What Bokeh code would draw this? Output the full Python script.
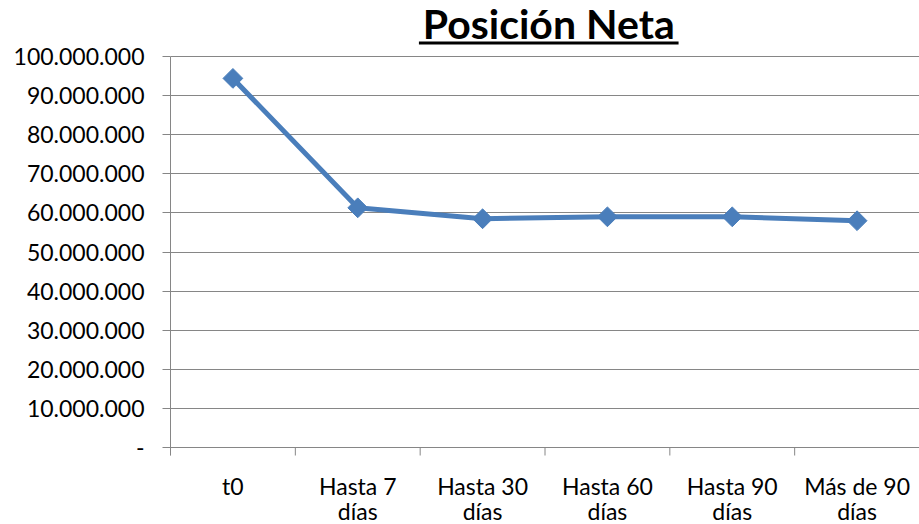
import math
from bokeh.plotting import figure
from bokeh.models import FactorRange, Range1d, LinearAxis, FixedTicker, Grid
from bokeh.core.properties import value
from bokeh.embed import file_html
from bokeh.resources import INLINE

# ---- data ----
categories = ["t0", "Hasta 7 días", "Hasta 30 días", "Hasta 60 días", "Hasta 90 días", "Más de 90 días"]
category_line1 = ["t0", "Hasta 7", "Hasta 30", "Hasta 60", "Hasta 90", "Más de 90"]
category_line2 = ["", "días", "días", "días", "días", "días"]
posicion_neta = [94_400_000, 61_300_000, 58_500_000, 59_000_000, 59_000_000, 58_000_000]
y_ticks = [0, 10_000_000, 20_000_000, 30_000_000, 40_000_000, 50_000_000,
           60_000_000, 70_000_000, 80_000_000, 90_000_000, 100_000_000]
y_tick_labels = ["-", "10.000.000", "20.000.000", "30.000.000", "40.000.000", "50.000.000",
                 "60.000.000", "70.000.000", "80.000.000", "90.000.000", "100.000.000"]
title_text = "Posición Neta"

FONT = "Lato"
GRAY = "#868686"
BLUE = "#4A7EBB"
Y_MAX = y_ticks[-1]
PX = Y_MAX / 391.0          # data units per pixel of the value area
N = len(categories)

p = figure(width=919, height=524,
           x_range=FactorRange(*categories),
           y_range=Range1d(-77 * PX, Y_MAX + 56 * PX),
           output_backend="svg", toolbar_location=None,
           x_axis_location=None, y_axis_location=None,
           min_border_left=170, min_border_right=0, min_border_top=0, min_border_bottom=0)
p.outline_line_color = None
p.background_fill_color = "white"
p.border_fill_color = "white"
p.center = [r for r in p.center if not isinstance(r, Grid)]

# horizontal gridlines
p.add_layout(Grid(dimension=1, ticker=FixedTicker(ticks=y_ticks),
                  grid_line_color=GRAY, grid_line_width=1))

# y axis
yaxis = LinearAxis(ticker=FixedTicker(ticks=y_ticks), bounds=(-8 * PX, Y_MAX),
                   major_label_overrides={t: l for t, l in zip(y_ticks, y_tick_labels)},
                   axis_line_color=GRAY, major_tick_line_color=GRAY,
                   major_tick_out=8, major_tick_in=0, minor_tick_line_color=None,
                   major_label_standoff=18,
                   major_label_text_font=FONT, major_label_text_font_size="23px",
                   major_label_text_color="black")
p.add_layout(yaxis, "left")

# category boundary tick marks
bounds = list(range(N + 1))
p.segment(x0=bounds, y0=[0] * (N + 1), x1=bounds, y1=[-8 * PX] * (N + 1),
          line_color=GRAY, line_width=1)

# category labels (two lines)
p.text(x=categories, y=[-38 * PX] * N, text=category_line1,
       text_font=value(FONT), text_font_size="23px", text_color="black",
       text_align="center", text_baseline="alphabetic")
p.text(x=categories, y=[-63 * PX] * N, text=category_line2,
       text_font=value(FONT), text_font_size="23px", text_color="black",
       text_align="center", text_baseline="alphabetic")

# series
p.line(x=categories, y=posicion_neta, line_width=5, line_color=BLUE)
p.scatter(x=categories, y=posicion_neta, marker="square", angle=math.pi / 4,
          size=14, fill_color=BLUE, line_color=BLUE)

# title (bold, underlined)
tx = N / 2 + 0.03
p.text(x=[tx], y=[Y_MAX + 33 * PX], text=[title_text],
       text_font=value(FONT), text_font_style="bold", text_font_size="41px",
       text_align="center", text_baseline="alphabetic", text_color="black")
p.segment(x0=[tx - 1.04], x1=[tx + 1.04], y0=[Y_MAX + 13.5 * PX], y1=[Y_MAX + 13.5 * PX],
          line_color="black", line_width=3)

open("out.html", "w").write(file_html(p, INLINE))
